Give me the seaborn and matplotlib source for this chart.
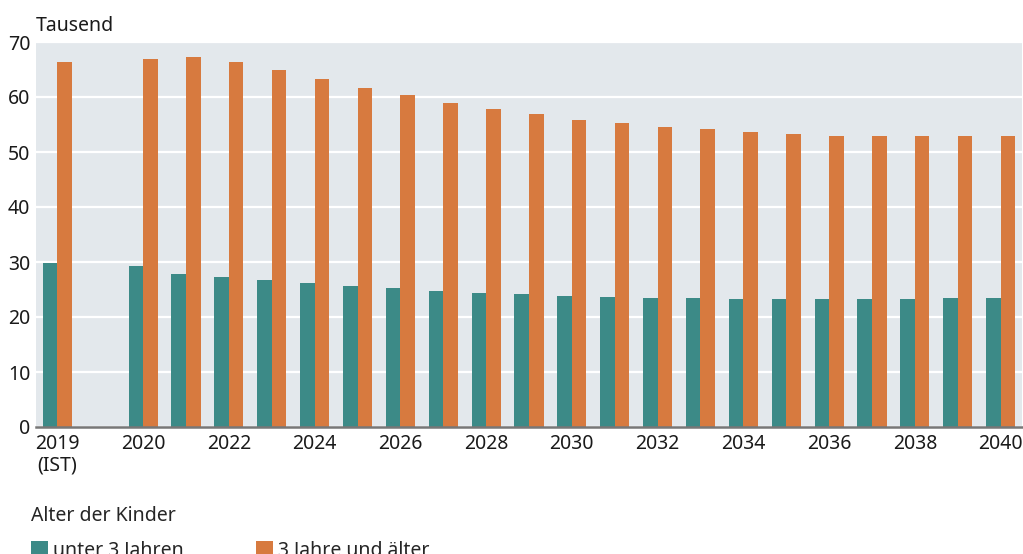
import matplotlib
matplotlib.use("Agg")
import matplotlib.pyplot as plt
import seaborn as sns
import pandas as pd
from matplotlib.patches import Patch

# Werte (Tausend)
years = ["2019"] + [str(y) for y in range(2020, 2041)]
under3 = [29.9, 29.2, 27.9, 27.2, 26.7, 26.1, 25.6, 25.2, 24.7, 24.3, 24.1,
          23.8, 23.6, 23.4, 23.4, 23.2, 23.2, 23.2, 23.2, 23.2, 23.4, 23.4]
over3 = [66.3, 67.0, 67.2, 66.3, 65.0, 63.2, 61.6, 60.3, 59.0, 57.9, 56.9,
         55.9, 55.2, 54.5, 54.1, 53.6, 53.2, 53.0, 52.9, 52.9, 52.9, 52.9]
groups = ["unter 3 Jahren", "3 Jahre und älter"]
colors = ["#3C8A87", "#D77A3F"]

# leerer Platz zwischen IST-Wert und Vorausberechnung
slot_order = ["2019", "gap"] + years[1:]
tick_years = ["2019"] + [str(y) for y in range(2020, 2041, 2)]
tick_labels = ["2019\n(IST)"] + tick_years[1:]

df = pd.DataFrame({
    "Jahr": years * 2,
    "Wert": under3 + over3,
    "Gruppe": [groups[0]] * len(years) + [groups[1]] * len(years),
})

sns.set_style("white")
plt.rcParams["font.family"] = ["Noto Sans", "DejaVu Sans"]
plt.rcParams["font.size"] = 14

fig = plt.figure(figsize=(10.23, 5.54), dpi=100)
ax = fig.add_axes([36 / 1023, 1 - 427 / 554, 986 / 1023, 385 / 554])

sns.barplot(data=df, x="Jahr", y="Wert", hue="Gruppe", order=slot_order,
            hue_order=groups, palette=colors, width=0.68, gap=0,
            saturation=1, legend=False, linewidth=0, ax=ax)

ax.set_facecolor("#E3E8EC")
ax.set_ylim(0, 70)
ax.set_yticks(range(0, 71, 10))
ax.grid(axis="y", color="white", linewidth=1.6)
ax.set_axisbelow(True)
ax.set_xticks([slot_order.index(y) for y in tick_years])
ax.set_xticklabels(tick_labels)
ax.set_xlim(-0.5, len(slot_order) - 0.5)
ax.set_xlabel("")
ax.set_ylabel("")
ax.tick_params(axis="both", length=0, labelsize=14, colors="#1a1a1a")
ax.tick_params(axis="y", pad=4)
ax.tick_params(axis="x", pad=5)
for lab in ax.get_xticklabels():
    lab.set_linespacing(1.1)
for s in ["top", "left", "right"]:
    ax.spines[s].set_visible(False)
ax.spines["bottom"].set_color("#777777")
ax.spines["bottom"].set_linewidth(1.8)

fig.text(36 / 1023, 1 - 31 / 554, "Tausend", fontsize=14, color="#1a1a1a",
         va="baseline", ha="left")

handles = [Patch(facecolor=c, edgecolor="none") for c in colors]
fig.legend(handles=handles, labels=groups, title="Alter der Kinder",
           loc="upper left", bbox_to_anchor=(31 / 1023, 1 - 506 / 554),
           ncol=2, frameon=False, alignment="left", fontsize=14,
           title_fontsize=14, handlelength=0.85, handleheight=0.85,
           handletextpad=0.3, columnspacing=3.7, borderpad=0,
           borderaxespad=0, labelspacing=0.75)

fig.savefig("out.png", dpi=100)
